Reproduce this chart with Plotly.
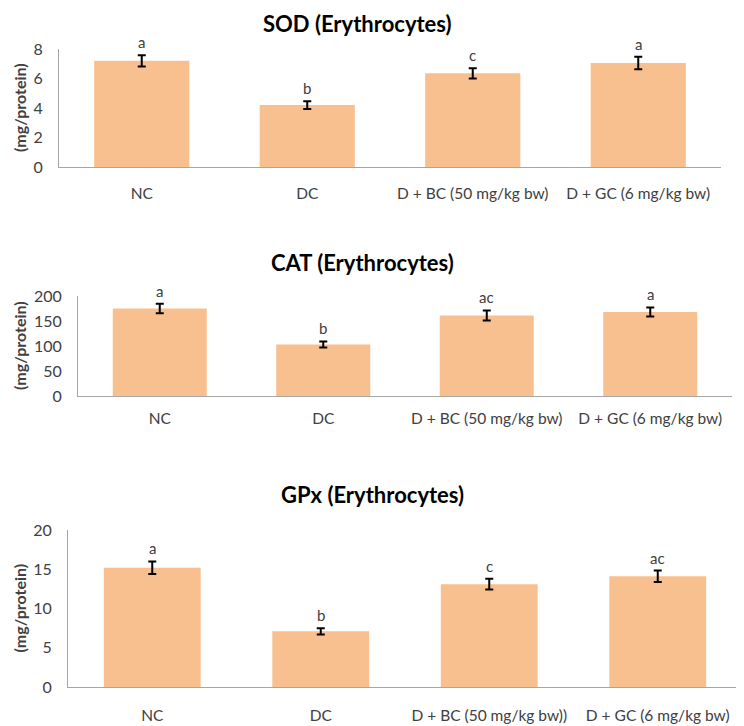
import plotly.graph_objects as go

categories_top = ["NC", "DC", "D + BC (50 mg/kg bw)", "D + GC (6 mg/kg bw)"]
categories_bottom = ["NC", "DC", "D + BC (50 mg/kg bw))", "D + GC (6 mg/kg bw)"]

sod_values = [7.2, 4.2, 6.35, 7.05]
sod_errors = [0.38, 0.26, 0.35, 0.42]
sod_letters = ["a", "b", "c", "a"]

cat_values = [175, 103, 161, 168]
cat_errors = [9.5, 6, 10, 9]
cat_letters = ["a", "b", "ac", "a"]

gpx_values = [15.2, 7.1, 13.1, 14.1]
gpx_errors = [0.8, 0.4, 0.68, 0.74]
gpx_letters = ["a", "b", "c", "ac"]

titles = ["SOD (Erythrocytes)", "CAT (Erythrocytes)", "GPx (Erythrocytes)"]
y_title = "(mg/protein)"
y_ranges = [[0, 8], [0, 200], [0, 20]]
y_dticks = [2, 50, 5]

# page body has an 8px margin, so the figure is sized to the remaining viewport
OFF = 8
W, H = 744 - OFF, 726 - OFF
BAR = "#F9C08F"
AXIS = "#A6A6A6"
TXT = "#404040"
FONT = "Lato"

panels = [
    dict(cats=categories_top, vals=sod_values, errs=sod_errors, letters=sod_letters,
         px=(59, 721), py=(49, 167), title_y=None, title_x=357, xstand=22),
    dict(cats=categories_top, vals=cat_values, errs=cat_errors, letters=cat_letters,
         px=(78, 732), py=(296, 396), title_y=262, title_x=362, xstand=18),
    dict(cats=categories_bottom, vals=gpx_values, errs=gpx_errors, letters=gpx_letters,
         px=(68, 742), py=(530, 687), title_y=494, title_x=372, xstand=24),
]


def fx(sx):
    return (sx - OFF) / W


def fy(sy):
    return 1 - (sy - OFF) / H


fig = go.Figure()
annotations = []
layout = dict(
    width=W, height=H, margin=dict(l=0, r=0, t=0, b=0, autoexpand=False),
    paper_bgcolor="white", plot_bgcolor="white", showlegend=False,
    font=dict(family=FONT, size=14, color=TXT), bargap=0.425,
)

for i, p in enumerate(panels):
    n = "" if i == 0 else str(i + 1)
    xa, ya = "x" + n, "y" + n
    fig.add_trace(go.Bar(
        x=p["cats"], y=p["vals"], xaxis=xa, yaxis=ya,
        marker=dict(color=BAR, line=dict(width=0)),
        error_y=dict(type="data", array=p["errs"], visible=True,
                     color="black", thickness=2, width=4),
        hoverinfo="x+y",
    ))
    layout["xaxis" + n] = dict(
        domain=[fx(p["px"][0]), fx(p["px"][1])], anchor=ya, automargin=False,
        showline=True, linecolor=AXIS, linewidth=1, ticks="",
        showgrid=False, zeroline=False, ticklabelstandoff=p["xstand"] - 10,
        tickfont=dict(family=FONT, size=15.5, color=TXT),
    )
    layout["yaxis" + n] = dict(
        domain=[fy(p["py"][1]), fy(p["py"][0])], anchor=xa, automargin=False,
        range=y_ranges[i], dtick=y_dticks[i], showline=True, linecolor=AXIS,
        linewidth=1, ticks="", showgrid=False, zeroline=False,
        ticklabelstandoff=12, tickfont=dict(family=FONT, size=16, color=TXT),
    )
    for c, v, e, t in zip(p["cats"], p["vals"], p["errs"], p["letters"]):
        annotations.append(dict(x=c, y=v + e, xref=xa, yref=ya, text=t,
                                showarrow=False, yanchor="bottom", yshift=2,
                                font=dict(family=FONT, size=15, color=TXT)))
    if p["title_y"] is None:
        ty, tanchor = 1.0, "top"
    else:
        ty, tanchor = fy(p["title_y"]), "middle"
    annotations.append(dict(x=fx(p["title_x"]), y=ty, xref="paper",
                            yref="paper", text="<b>" + titles[i] + "</b>", showarrow=False,
                            xanchor="center", yanchor=tanchor,
                            font=dict(family=FONT, size=22, color="black")))
    annotations.append(dict(x=fx(19), y=fy((p["py"][0] + p["py"][1]) / 2),
                            xref="paper", yref="paper", text="<b>" + y_title + "</b>",
                            textangle=-90, showarrow=False, xanchor="center",
                            yanchor="middle",
                            font=dict(family=FONT, size=16, color=TXT)))

layout["annotations"] = annotations
fig.update_layout(**layout)
fig.write_html("out.html")
